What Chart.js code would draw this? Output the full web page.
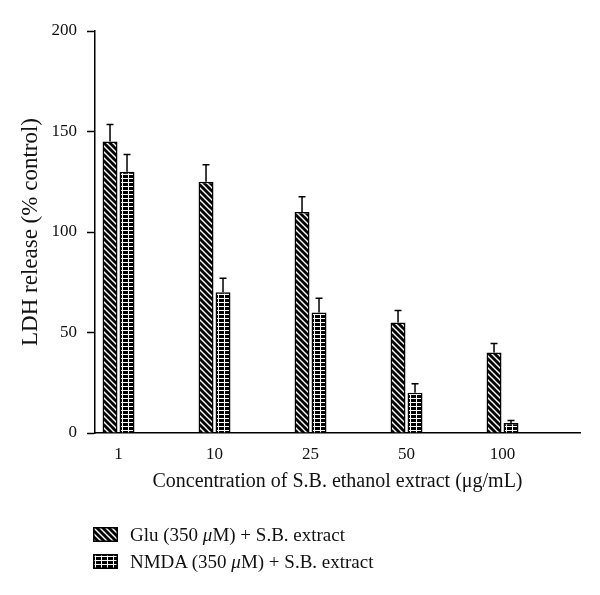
<!DOCTYPE html>
<html>
<head>
<meta charset="utf-8">
<script src="https://cdn.jsdelivr.net/npm/chart.js@4.4.1/dist/chart.umd.min.js"></script>
<style>
  html, body { margin: 0; padding: 0; background: #fff; }
  #wrap { position: relative; width: 600px; height: 595px; }
  #legend { position: absolute; left: 93px; top: 521px; font-family: "Liberation Serif", serif; font-size: 19px; color: #111; }
  .item { display: flex; align-items: center; height: 27px; }
  .item canvas { width: 25px; height: 15px; margin-right: 12px; }
</style>
</head>
<body>
<div id="wrap">
  <canvas id="c" width="600" height="595"></canvas>
  <div id="legend"></div>
</div>
<script>
// ---- data ----
const categories = ['1', '10', '25', '50', '100'];
const gluValues = [145, 125, 110, 55, 40];
const gluErrors = [8.5, 8.5, 7.5, 6, 4.5];
const nmdaValues = [130, 70, 60, 20, 5];
const nmdaErrors = [8.5, 7, 7, 4.5, 1.2];
const seriesNames = ['Glu (350 μM) + S.B. extract', 'NMDA (350 μM) + S.B. extract'];
const yTicks = [0, 50, 100, 150, 200];

// ---- patterns ----
function makeHatchTile() {
  const c = document.createElement('canvas');
  c.width = 6; c.height = 6;
  const g = c.getContext('2d');
  g.fillStyle = '#000'; g.fillRect(0, 0, 6, 6);
  g.strokeStyle = '#fff'; g.lineWidth = 1.4;
  g.beginPath();
  g.moveTo(-1, -1); g.lineTo(7, 7);
  g.moveTo(5, -1); g.lineTo(7, 1);
  g.moveTo(-1, 5); g.lineTo(1, 7);
  g.stroke();
  return c;
}
function makeGridTile() {
  const c = document.createElement('canvas');
  c.width = 6; c.height = 4;
  const g = c.getContext('2d');
  g.fillStyle = '#000'; g.fillRect(0, 0, 6, 4);
  g.fillStyle = '#fff';
  g.fillRect(2, 0, 1, 4);
  g.fillRect(0, 2, 6, 1);
  return c;
}
const ctx = document.getElementById('c').getContext('2d');
const hatchTile = makeHatchTile();
const gridTile = makeGridTile();
const hatch = ctx.createPattern(hatchTile, 'repeat');
const grid = ctx.createPattern(gridTile, 'repeat');

const errorSets = [gluErrors, nmdaErrors];

const errorBars = {
  id: 'errorBars',
  afterDatasetsDraw(chart) {
    const c = chart.ctx;
    const y = chart.scales.y;
    c.save();
    c.strokeStyle = '#000';
    c.lineWidth = 1.5;
    chart.data.datasets.forEach((ds, di) => {
      const meta = chart.getDatasetMeta(di);
      meta.data.forEach((el, i) => {
        const v = ds.data[i].y;
        const top = y.getPixelForValue(v + errorSets[di][i]);
        c.beginPath();
        c.moveTo(el.x, el.y);
        c.lineTo(el.x, top);
        c.moveTo(el.x - 3.5, top);
        c.lineTo(el.x + 3.5, top);
        c.stroke();
      });
    });
    c.restore();
  }
};

const font = "'Liberation Serif', serif";

const chart = new Chart(ctx, {
  type: 'bar',
  data: {
    datasets: [
      {
        label: seriesNames[0],
        data: gluValues.map((v, i) => ({ x: i, y: v })),
        backgroundColor: hatch,
        borderColor: '#000',
        borderWidth: 1.5,
        categoryPercentage: 0.354,
        barPercentage: 0.88
      },
      {
        label: seriesNames[1],
        data: nmdaValues.map((v, i) => ({ x: i, y: v })),
        backgroundColor: grid,
        borderColor: '#000',
        borderWidth: 1.5,
        categoryPercentage: 0.354,
        barPercentage: 0.88
      }
    ]
  },
  options: {
    responsive: false,
    animation: false,
    layout: { padding: { left: 0, right: 20, top: 31, bottom: 100 } },
    plugins: {
      legend: { display: false },
      tooltip: { enabled: false }
    },
    scales: {
      x: {
        type: 'linear',
        offset: false,
        min: -0.245,
        max: 4.807,
        afterBuildTicks: (axis) => { axis.ticks = categories.map((_, i) => ({ value: i })); },
        afterFit: (axis) => { axis.height = 62; },
        ticks: {
          callback: (v) => categories[v] !== undefined ? categories[v] : '',
          font: { family: font, size: 17 },
          color: '#111',
          padding: 11,
          maxRotation: 0,
          autoSkip: false
        },
        grid: { display: false, drawTicks: false, offset: false },
        border: { display: true, color: '#000', width: 1.5 },
        title: {
          display: true,
          text: 'Concentration of S.B. ethanol extract (μg/mL)',
          font: { family: font, size: 20 },
          color: '#111',
          padding: { top: 0, bottom: 1 }
        }
      },
      y: {
        min: 0,
        max: 200,
        afterBuildTicks: (axis) => { axis.ticks = yTicks.map(v => ({ value: v })); },
        afterFit: (axis) => { axis.width = 95; },
        ticks: {
          font: { family: font, size: 17 },
          color: '#111',
          padding: 10
        },
        grid: {
          display: true,
          drawOnChartArea: false,
          drawTicks: true,
          tickLength: 8,
          tickColor: '#000',
          tickWidth: 1.5
        },
        border: { display: true, color: '#000', width: 1.5 },
        title: {
          display: true,
          text: 'LDH release (% control)',
          font: { family: font, size: 23 },
          color: '#111',
          padding: { top: 17, bottom: 0 }
        }
      }
    }
  },
  plugins: [errorBars]
});

// ---- HTML legend built from the chart datasets ----
const legend = document.getElementById('legend');
[hatchTile, gridTile].forEach((tile, i) => {
  const item = document.createElement('div');
  item.className = 'item';
  const sw = document.createElement('canvas');
  sw.width = 25; sw.height = 15;
  const g = sw.getContext('2d');
  g.fillStyle = g.createPattern(tile, 'repeat');
  g.fillRect(0, 0, 25, 15);
  g.strokeStyle = '#000'; g.lineWidth = 1.5;
  g.strokeRect(0.75, 0.75, 23.5, 13.5);
  const label = document.createElement('span');
  label.innerHTML = chart.data.datasets[i].label.replace('μ', '<i>μ</i>');
  item.appendChild(sw);
  item.appendChild(label);
  legend.appendChild(item);
});
</script>
</body>
</html>
